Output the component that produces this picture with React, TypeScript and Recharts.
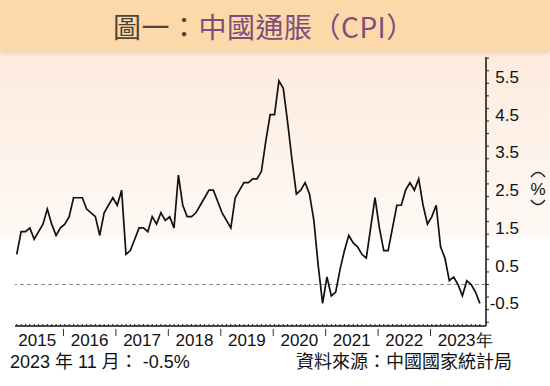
import { LineChart, Line, XAxis, YAxis, ReferenceLine } from 'recharts';

// China CPI, YoY %, monthly Jan 2015 - Nov 2023
const cpi2015 = [0.8, 1.4, 1.4, 1.5, 1.2, 1.4, 1.6, 2.0, 1.6, 1.3, 1.5, 1.6];
const cpi2016 = [1.8, 2.3, 2.3, 2.3, 2.0, 1.9, 1.8, 1.3, 1.9, 2.1, 2.3, 2.1];
const cpi2017 = [2.5, 0.8, 0.9, 1.2, 1.5, 1.5, 1.4, 1.8, 1.6, 1.9, 1.7, 1.8];
const cpi2018 = [1.5, 2.9, 2.1, 1.8, 1.8, 1.9, 2.1, 2.3, 2.5, 2.5, 2.2, 1.9];
const cpi2019 = [1.7, 1.5, 2.3, 2.5, 2.7, 2.7, 2.8, 2.8, 3.0, 3.8, 4.5, 4.5];
const cpi2020 = [5.4, 5.2, 4.3, 3.3, 2.4, 2.5, 2.7, 2.4, 1.7, 0.5, -0.5, 0.2];
const cpi2021 = [-0.3, -0.2, 0.4, 0.9, 1.3, 1.1, 1.0, 0.8, 0.7, 1.5, 2.3, 1.5];
const cpi2022 = [0.9, 0.9, 1.5, 2.1, 2.1, 2.5, 2.7, 2.5, 2.8, 2.1, 1.6, 1.8];
const cpi2023 = [2.1, 1.0, 0.7, 0.1, 0.2, 0.0, -0.3, 0.1, 0.0, -0.2, -0.5];

const years = ['2015', '2016', '2017', '2018', '2019', '2020', '2021', '2022', '2023年'];
const yLabels = [-0.5, 0.5, 1.5, 2.5, 3.5, 4.5, 5.5];

const cpi = [...cpi2015, ...cpi2016, ...cpi2017, ...cpi2018, ...cpi2019, ...cpi2020, ...cpi2021, ...cpi2022, ...cpi2023];
const data = cpi.map((v, i) => ({ i, v }));

// the year boundary marks sit a little before each January in the original
const boundaryShift = -1.3;
const labelShift = 4.7;

const boundaryTicks = years.slice(1).map((_, k) => 12 * (k + 1) + boundaryShift);
const labelTicks = years.map((_, k) => 12 * k + labelShift);
const monthTicks = data.map((d) => d.i);
const xTicks = [...monthTicks, ...boundaryTicks, ...labelTicks].sort((a, b) => a - b);

const minorY: number[] = [];
for (let k = -3; k <= 18; k++) minorY.push(k / 3);
const yTicks = [...minorY, ...yLabels].sort((a, b) => a - b);

const font = '"Liberation Sans", Arial, sans-serif';

function XTick(props: any) {
  const { x, y, payload } = props;
  const v = payload.value;
  const li = labelTicks.indexOf(v);
  if (li >= 0) {
    return (
      <text x={x - 19} y={y + 20} textAnchor="start" fontSize={17} fontFamily={font} fill="#111">
        {years[li]}
      </text>
    );
  }
  if (boundaryTicks.indexOf(v) >= 0) {
    return <line x1={x} x2={x} y1={y + 3} y2={y + 10} stroke="#333" strokeWidth={1} />;
  }
  return <line x1={x} x2={x} y1={y - 2} y2={y} stroke="#222" strokeWidth={1} />;
}

function YTick(props: any) {
  const { x, y, payload } = props;
  const v = payload.value;
  if (yLabels.indexOf(v) >= 0) {
    return (
      <text x={x + 33} y={y + 6} textAnchor="end" fontSize={17} fontFamily={font} fill="#111">
        {v}
      </text>
    );
  }
  return <line x1={x} x2={x + 3} y1={y} y2={y} stroke="#222" strokeWidth={1} />;
}

export default function App() {
  return (
    <div style={{ position: 'absolute', left: 0, top: 0, width: 550, height: 386, background: '#fff', overflow: 'hidden' }}>
      {/* soft peach wash behind the upper part */}
      <div
        style={{
          position: 'absolute',
          left: 0,
          top: 50,
          width: 550,
          height: 187,
          background: 'linear-gradient(#fdebdd, #fef9f5)',
        }}
      />
      {/* title banner */}
      <div
        style={{
          position: 'absolute',
          left: 0,
          top: 0,
          width: 550,
          height: 50,
          background: '#fdd9aa',
          boxShadow: '0 3px 5px rgba(215,150,90,0.35)',
        }}
      />
      <div
        style={{
          position: 'absolute',
          left: 113,
          top: 6,
          whiteSpace: 'nowrap',
          fontFamily: '"Noto Sans CJK TC", sans-serif',
          fontSize: 28,
          lineHeight: '40px',
          letterSpacing: 0.5,
        }}
      >
        <span style={{ color: '#4a4538' }}>圖一：</span>
        <span style={{ color: '#7b4f7c' }}>中國通脹（CPI）</span>
      </div>

      <div style={{ position: 'absolute', left: 0, top: 0 }}>
        <LineChart width={550} height={386} data={data} margin={{ top: 57, right: 24, bottom: 30, left: 15 }}>
          <XAxis
            dataKey="i"
            type="number"
            domain={[-0.4, 107.4]}
            allowDataOverflow
            ticks={xTicks}
            interval={0}
            tick={<XTick />}
            tickLine={false}
            tickSize={0}
            tickMargin={0}
            height={30}
            axisLine={{ stroke: '#111', strokeWidth: 1.5 }}
          />
          <YAxis
            orientation="right"
            type="number"
            domain={[-1.1, 6.03]}
            allowDataOverflow
            ticks={yTicks}
            interval={0}
            tick={<YTick />}
            tickLine={false}
            tickSize={0}
            tickMargin={0}
            width={40}
            axisLine={{ stroke: '#111', strokeWidth: 1.5 }}
          />
          <ReferenceLine y={0} stroke="#8c8c8c" strokeDasharray="4 3" strokeWidth={1} />
          <Line
            type="linear"
            dataKey="v"
            stroke="#111"
            strokeWidth={1.7}
            dot={false}
            isAnimationActive={false}
          />
        </LineChart>
      </div>

      {/* unit mark: vertical (%) */}
      <svg style={{ position: 'absolute', left: 0, top: 0 }} width={550} height={386}>
        <path d="M531 177 Q538 168 545 177" fill="none" stroke="#222" strokeWidth={1.3} />
        <text x={538} y={195} textAnchor="middle" fontSize={17} fontFamily={font} fill="#111">
          %
        </text>
        <path d="M531 200 Q538 209 545 200" fill="none" stroke="#222" strokeWidth={1.3} />
      </svg>

      <div
        style={{
          position: 'absolute',
          left: 10,
          top: 354,
          whiteSpace: 'nowrap',
          fontFamily: '"Liberation Sans", "Noto Sans CJK TC", sans-serif',
          fontSize: 18,
          lineHeight: '16px',
          color: '#111',
        }}
      >
        2023 年 11 月： -0.5%
      </div>
      <div
        style={{
          position: 'absolute',
          right: 38,
          top: 354,
          whiteSpace: 'nowrap',
          fontFamily: '"Liberation Sans", "Noto Sans CJK TC", sans-serif',
          fontSize: 18,
          lineHeight: '16px',
          color: '#111',
        }}
      >
        資料來源：中國國家統計局
      </div>
    </div>
  );
}
